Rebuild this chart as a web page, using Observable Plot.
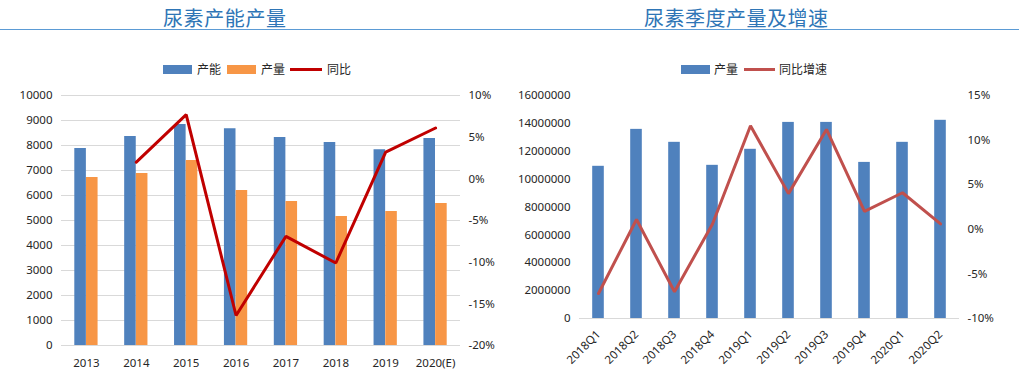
<!DOCTYPE html>
<html><head><meta charset="utf-8">
<script src="https://cdn.jsdelivr.net/npm/d3@7"></script>
<script src="https://cdn.jsdelivr.net/npm/@observablehq/plot@0.6"></script>
<style>
body{margin:0;background:#fff;width:1019px;height:381px;position:relative;overflow:hidden;font-family:"Noto Sans","Noto Sans CJK SC",sans-serif;}
.title{position:absolute;font-family:"Noto Sans CJK SC",sans-serif;color:#2E75B6;white-space:nowrap;line-height:1;}
.rule{position:absolute;top:29px;left:0;width:1019px;height:1px;border-top:1.5px solid #5B9BD5;}
.lg{position:absolute;font-family:"Noto Sans CJK SC",sans-serif;font-size:12px;color:#262626;line-height:12px;top:63px;white-space:nowrap;}
.sw{position:absolute;height:9px;top:65px;}
.ln{position:absolute;height:3px;top:68px;}
.chart{position:absolute;top:80px;}
</style></head>
<body>
<div class="rule"></div>
<div class="title" style="left:163px;top:8px;font-size:20px;letter-spacing:0.6px;">尿素产能产量</div>
<div class="title" style="left:644px;top:8px;font-size:20px;letter-spacing:0.5px;">尿素季度产量及增速</div>

<div class="sw" style="left:163px;width:29px;background:#4F81BD"></div>
<div class="lg" style="left:197px">产能</div>
<div class="sw" style="left:227px;width:29px;background:#F79646"></div>
<div class="lg" style="left:261px">产量</div>
<div class="ln" style="left:290px;width:32px;background:#C00000"></div>
<div class="lg" style="left:327px">同比</div>

<div class="sw" style="left:681px;width:29px;background:#4F81BD"></div>
<div class="lg" style="left:714px">产量</div>
<div class="ln" style="left:744px;width:31px;background:#C0504D"></div>
<div class="lg" style="left:779px">同比增速</div>

<div id="c1" class="chart" style="left:0px"></div>
<div id="c1b" class="chart" style="left:0px"></div>
<div id="c2" class="chart" style="left:510px"></div>
<div id="c2b" class="chart" style="left:510px"></div>

<script>
// ---- Left chart data ----
const years = ["2013","2014","2015","2016","2017","2018","2019","2020(E)"];
const capacity = [7880, 8360, 8840, 8670, 8320, 8120, 7830, 8280];
const output   = [6720, 6880, 7400, 6200, 5760, 5160, 5360, 5680];
const yoy      = [null, 2.0, 7.7, -16.4, -6.9, -10.1, 3.2, 6.1];
const leftTicks = d3.range(0, 10001, 1000);
const leftPctTicks = d3.range(-20, 11, 5);

// ---- Right chart data ----
const quarters = ["2018Q1","2018Q2","2018Q3","2018Q4","2019Q1","2019Q2","2019Q3","2019Q4","2020Q1","2020Q2"];
const production = [10920000, 13570000, 12640000, 10990000, 12140000, 14070000, 14070000, 11200000, 12640000, 14220000];
const growth = [-7.2, 1.1, -7.0, 0.6, 11.6, 4.0, 11.2, 2.0, 4.1, 0.6];
const rightTicks = d3.range(0, 16000001, 2000000);
const rightPctTicks = d3.range(-10, 16, 5);

const baseStyle = {fontFamily:"Noto Sans, sans-serif", fontSize:"11.5px", color:"#262626", background:"transparent", overflow:"visible"};

const capData = years.map((y,i)=>({year:y, v:capacity[i]}));
const outData = years.map((y,i)=>({year:y, v:output[i]}));
const yoyData = years.map((y,i)=>({year:y, v:yoy[i]})).filter(d=>d.v!=null);

const L = {width:509, height:300, marginLeft:61, marginRight:49, marginTop:15, marginBottom:35};

document.getElementById("c1").append(Plot.plot({
  ...L, style: baseStyle,
  x:{type:"band", domain:years, padding:0, round:false, label:null},
  y:{domain:[0,10000], label:null},
  marks:[
    Plot.ruleY(leftTicks, {stroke:"#d9d9d9", strokeWidth:1}),
    Plot.barY(capData, {x:"year", y:"v", fill:"#4F81BD", insetLeft:13.3, insetRight:25}),
    Plot.barY(outData, {x:"year", y:"v", fill:"#F79646", insetLeft:25, insetRight:13.3}),
    Plot.axisY(leftTicks, {tickSize:0, tickPadding:9, tickFormat:d=>String(d), label:null}),
    Plot.axisX({tickSize:0, tickPadding:13, label:null})
  ]
}));

document.getElementById("c1b").append(Plot.plot({
  ...L, style: baseStyle,
  x:{type:"point", domain:years, padding:0.5, round:false, label:null, axis:null},
  y:{domain:[-20,10], label:null},
  marks:[
    Plot.line(yoyData, {x:"year", y:"v", stroke:"#C00000", strokeWidth:3, strokeLinejoin:"miter"}),
    Plot.axisY(leftPctTicks, {anchor:"right", tickSize:0, tickPadding:8, tickFormat:d=>d+"%", label:null})
  ]
}));

const prodData = quarters.map((q,i)=>({q, v:production[i]}));
const growData = quarters.map((q,i)=>({q, v:growth[i]}));
const R = {width:509, height:300, marginLeft:69, marginRight:60, marginTop:15, marginBottom:62};

document.getElementById("c2").append(Plot.plot({
  ...R, style: baseStyle,
  x:{type:"band", domain:quarters, padding:0, round:false, label:null},
  y:{domain:[0,16000000], label:null},
  marks:[
    Plot.barY(prodData, {x:"q", y:"v", fill:"#4F81BD", insetLeft:13.2, insetRight:13.2}),
    Plot.ruleY([0], {stroke:"#d9d9d9", strokeWidth:1}),
    Plot.axisY(rightTicks, {tickSize:0, tickPadding:9, tickFormat:d=>String(d), label:null}),
    Plot.axisX({tickSize:0, tickPadding:14, tickRotate:-45, label:null})
  ]
}));

document.getElementById("c2b").append(Plot.plot({
  ...R, style: baseStyle,
  x:{type:"point", domain:quarters, padding:0.5, round:false, label:null, axis:null},
  y:{domain:[-10,15], label:null},
  marks:[
    Plot.line(growData, {x:"q", y:"v", stroke:"#C0504D", strokeWidth:3, strokeLinejoin:"miter"}),
    Plot.axisY(rightPctTicks, {anchor:"right", tickSize:0, tickPadding:8, tickFormat:d=>d+"%", label:null})
  ]
}));
</script>
</body></html>
